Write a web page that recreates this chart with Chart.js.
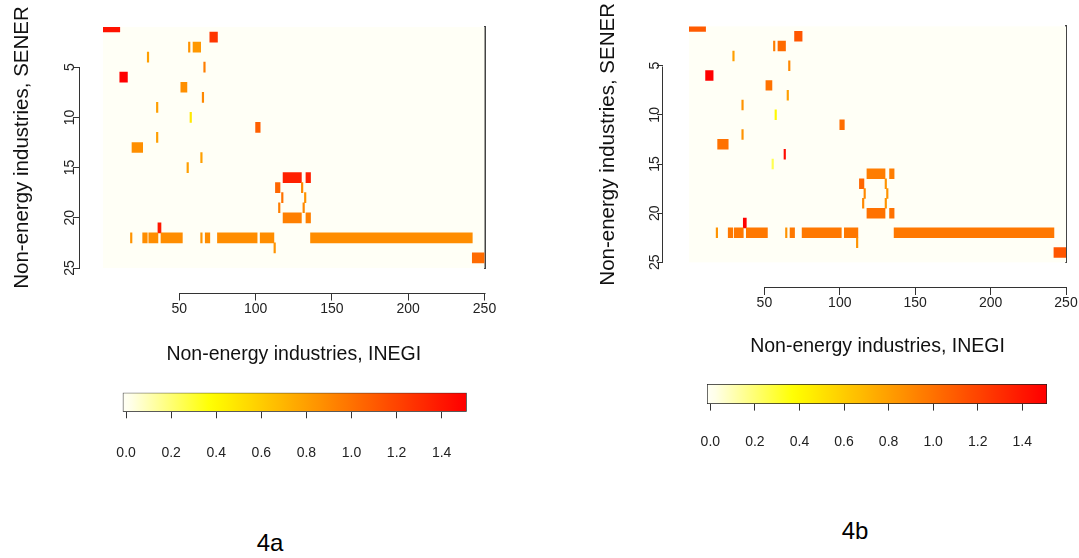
<!DOCTYPE html>
<html>
<head>
<meta charset="utf-8">
<script src="https://cdn.jsdelivr.net/npm/chart.js@4.4.1/dist/chart.umd.min.js"></script>
<style>
  html, body { margin: 0; padding: 0; background: #fff; width: 1079px; height: 558px; overflow: hidden; }
  canvas { position: absolute; }
  .cap { position: absolute; font-family: 'Liberation Sans', Arial, sans-serif; font-size: 24px; line-height: 1; color: #000; transform: translate(-50%, -50%); }
</style>
</head>
<body>
<canvas id="heatA" width="540" height="400" style="left:0;top:0"></canvas>
<canvas id="heatB" width="494" height="400" style="left:585px;top:0"></canvas>
<canvas id="barA" width="400" height="90" style="left:100px;top:380px"></canvas>
<canvas id="barB" width="394" height="90" style="left:685px;top:372px"></canvas>
<div class="cap" style="left:270px;top:543px">4a</div>
<div class="cap" style="left:855px;top:531px">4b</div>

<script>
// ---------- data: runs of equal non-zero cells (row, first column, last column, value) ----------
// 4a
const rowsA   = [1, 2, 3, 3, 4, 5, 6, 7, 8, 9, 10, 11, 12, 13, 14, 15, 16, 16, 17, 17, 18, 18, 19, 19, 20, 20, 21, 22, 22, 22, 22, 22, 22, 22, 22, 22, 23, 24];
const firstA  = [1, 71, 57, 60, 30, 67, 12, 52, 66, 36, 58, 101, 36, 20, 65, 56, 119, 134, 114, 131, 118, 133, 116, 132, 119, 134, 37, 19, 27, 31, 39, 65, 68, 76, 104, 137, 113, 243];
const lastA   = [11, 75, 57, 64, 30, 67, 16, 55, 66, 36, 58, 103, 36, 26, 65, 56, 130, 136, 116, 131, 118, 133, 116, 132, 130, 136, 38, 19, 29, 36, 52, 65, 70, 101, 112, 242, 113, 250];
const valuesA = [1.42, 1.26, 0.85, 0.83, 0.8, 0.95, 1.5, 0.87, 0.9, 0.8, 0.47, 1.08, 0.8, 0.87, 0.8, 0.8, 1.36, 1.36, 1.05, 0.9, 1.0, 0.85, 0.95, 0.9, 0.94, 0.94, 1.4, 0.85, 0.88, 0.88, 0.88, 0.85, 0.88, 0.88, 0.88, 0.88, 0.85, 1.03];

// 4b
const rowsB   = [1, 2, 3, 3, 4, 5, 6, 7, 8, 9, 10, 11, 12, 13, 14, 15, 16, 16, 17, 17, 18, 18, 19, 19, 20, 20, 21, 22, 22, 22, 22, 22, 22, 22, 22, 22, 23, 24];
const firstB  = [1, 71, 57, 60, 30, 67, 12, 52, 66, 36, 58, 101, 36, 20, 64, 56, 119, 134, 114, 131, 117, 132, 116, 131, 119, 134, 37, 19, 27, 31, 39, 65, 68, 76, 104, 137, 112, 243];
const lastB   = [11, 75, 57, 64, 30, 67, 16, 55, 66, 36, 58, 103, 36, 26, 64, 56, 130, 136, 116, 131, 117, 132, 116, 131, 130, 136, 38, 19, 29, 36, 52, 65, 70, 101, 112, 242, 112, 250];
const valuesB = [1.1, 1.12, 0.95, 1.03, 0.8, 0.9, 1.5, 1.0, 0.8, 0.85, 0.4, 1.02, 0.85, 1.0, 1.45, 0.25, 0.95, 0.95, 1.05, 0.85, 0.9, 0.85, 0.9, 0.85, 1.0, 1.0, 1.5, 0.85, 0.97, 0.97, 0.97, 0.85, 0.97, 0.97, 0.97, 0.97, 0.85, 1.12];

// axes
const xTicks = [50, 100, 150, 200, 250];
const yTicks = [5, 10, 15, 20, 25];
const colorTicks = [0, 0.2, 0.4, 0.6, 0.8, 1.0, 1.2, 1.4];
const colorRange = [-0.015, 1.511];

const FONT = "'Liberation Sans', Arial, sans-serif";

// reversed heat.colors: white -> yellow -> red
function heatColor(v) {
    const t = Math.max(0, Math.min(1.5, v));
    let h, s;
    if (t >= 0.375) {
        h = 60 * (1.5 - t) / 1.125;
        s = 1;
    } else {
        h = 60;
        s = 0.035 + 0.965 * t / 0.375;
    }
    const g = Math.round(255 * (1 - s * (1 - h / 60)));
    const b = Math.round(255 * (1 - s));
    return `rgb(255,${g},${b})`;
}

// zero cells fill the whole plot area
const cellBackground = {
    id: 'cellBackground',
    beforeDatasetsDraw(chart) {
        const { ctx, chartArea: a } = chart;
        ctx.save();
        ctx.fillStyle = heatColor(0);
        ctx.fillRect(a.left, a.top, a.right - a.left, a.bottom - a.top);
        ctx.restore();
    }
};

// R style axis line: only from first to last tick
const rAxisLine = {
    id: 'rAxisLine',
    afterDraw(chart) {
        const ctx = chart.ctx;
        ['xAxis', 'yAxis'].forEach(id => {
            const s = chart.scales[id];
            if (!s || !s.ticks.length) return;
            const p0 = s.getPixelForValue(s.ticks[0].value);
            const p1 = s.getPixelForValue(s.ticks[s.ticks.length - 1].value);
            ctx.save();
            ctx.strokeStyle = '#333';
            ctx.lineWidth = 1;
            ctx.beginPath();
            if (s.isHorizontal()) {
                const y = Math.round(s.top) + 0.5;
                ctx.moveTo(Math.round(p0) + 0.5, y);
                ctx.lineTo(Math.round(p1) + 0.5, y);
            } else {
                const x = Math.round(s.right) - 0.5;
                ctx.moveTo(x, Math.round(p0) + 0.5);
                ctx.lineTo(x, Math.round(p1) + 0.5);
            }
            ctx.stroke();
            ctx.restore();
        });
    }
};

function heatmap(id, rows, first, last, values, box) {
    const cells = rows.map((r, i) => ({ y: r, x: [first[i] - 1, last[i]] }));
    return new Chart(document.getElementById(id), {
        type: 'bar',
        data: {
            datasets: [{
                data: cells,
                xAxisID: 'x',
                yAxisID: 'y',
                backgroundColor: values.map(heatColor),
                borderWidth: 0,
                barPercentage: 1,
                categoryPercentage: 1
            }]
        },
        options: {
            indexAxis: 'y',
            responsive: false,
            animation: false,
            layout: { padding: { top: box.top, right: box.right, left: 0, bottom: 0 } },
            plugins: { legend: { display: false }, tooltip: { enabled: false } },
            scales: {
                x: {
                    type: 'linear', axis: 'x', position: 'bottom', weight: 0,
                    min: 0, max: 250,
                    grid: { display: false }, border: { display: false }, ticks: { display: false },
                    afterFit: s => { s.height = box.gapX; }
                },
                xAxis: {
                    type: 'linear', axis: 'x', position: 'bottom', weight: 1,
                    min: 0, max: 250,
                    afterBuildTicks: s => { s.ticks = xTicks.map(v => ({ value: v })); },
                    grid: { drawOnChartArea: false, tickLength: 8, color: '#333' },
                    border: { display: false },
                    ticks: { font: { size: 14, family: FONT }, color: '#222', padding: 0, maxRotation: 0, autoSkip: false },
                    title: {
                        display: true, text: 'Non-energy industries, INEGI',
                        font: { size: 19.5, family: FONT }, color: '#111',
                        padding: { top: 0, bottom: box.titleX }
                    },
                    afterFit: s => { s.height = box.hX; }
                },
                y: {
                    type: 'linear', axis: 'y', position: 'left', weight: 0,
                    reverse: true, min: 1, max: 25, offset: false,
                    grid: { display: false, offset: false }, border: { display: false },
                    ticks: { display: false, stepSize: 1 },
                    afterFit: s => { s.width = box.gapY; }
                },
                yAxis: {
                    type: 'linear', axis: 'y', position: 'left', weight: 1,
                    reverse: true, min: 1, max: 25, offset: false,
                    afterBuildTicks: s => { s.ticks = yTicks.map(v => ({ value: v })); },
                    grid: { drawOnChartArea: false, offset: false, tickLength: box.tickY, color: '#333' },
                    border: { display: false },
                    ticks: {
                        font: { size: 14, family: FONT }, color: '#222',
                        minRotation: 90, maxRotation: 90, crossAlign: 'center',
                        padding: box.padY, autoSkip: false
                    },
                    title: {
                        display: true, text: 'Non-energy industries, SENER',
                        font: { size: 20.5, family: FONT }, color: '#111',
                        padding: { top: box.titleY, bottom: 0 }
                    },
                    afterFit: s => { s.width = box.axisW; }
                },
                yRight: {
                    type: 'linear', axis: 'y', position: 'right', offset: false,
                    grid: { display: false, offset: false }, ticks: { display: false },
                    border: { display: true, color: '#444', width: 2 },
                    afterFit: s => { s.width = 10; }
                }
            }
        },
        plugins: [cellBackground, rAxisLine]
    });
}

function colorbar(id, box) {
    const tickSet = s => { s.ticks = colorTicks.map(v => ({ value: v })); };
    return new Chart(document.getElementById(id), {
        type: 'bar',
        data: {
            labels: [''],
            datasets: [{
                data: [colorRange],
                backgroundColor: ctx => {
                    const chart = ctx.chart;
                    const sx = chart.scales.x;
                    if (!sx || !chart.chartArea) return heatColor(0.75);
                    const x0 = sx.getPixelForValue(colorRange[0]);
                    const x1 = sx.getPixelForValue(colorRange[1]);
                    const grad = chart.ctx.createLinearGradient(x0, 0, x1, 0);
                    const n = 40;
                    for (let i = 0; i <= n; i++) {
                        const v = colorRange[0] + (colorRange[1] - colorRange[0]) * i / n;
                        grad.addColorStop(i / n, heatColor(v));
                    }
                    return grad;
                },
                borderColor: '#222',
                borderWidth: 1,
                borderSkipped: false,
                barPercentage: 1,
                categoryPercentage: 1
            }]
        },
        options: {
            indexAxis: 'y',
            responsive: false,
            animation: false,
            layout: { padding: { left: box.left, right: box.right, top: box.top, bottom: 0 } },
            plugins: { legend: { display: false }, tooltip: { enabled: false } },
            scales: {
                // tick marks only
                x: {
                    type: 'linear', position: 'bottom', weight: 0,
                    min: colorRange[0], max: colorRange[1],
                    afterBuildTicks: tickSet,
                    grid: { drawOnChartArea: false, tickLength: 6.6, color: '#333' },
                    border: { display: false },
                    ticks: { display: false },
                    afterFit: s => { s.height = box.gap; }
                },
                // labels, further down
                xLabels: {
                    type: 'linear', axis: 'x', position: 'bottom', weight: 1,
                    min: colorRange[0], max: colorRange[1],
                    afterBuildTicks: tickSet,
                    grid: { display: false, drawTicks: false },
                    border: { display: false },
                    ticks: {
                        font: { size: 14, family: FONT }, color: '#222',
                        padding: 0, autoSkip: false, maxRotation: 0,
                        callback: v => v.toFixed(1)
                    },
                    afterFit: s => { s.height = box.labelH; }
                },
                y: { type: 'category', display: false }
            }
        }
    });
}

heatmap('heatA', rowsA, firstA, lastA, valuesA, {
    top: 27, right: 45.5, axisW: 80, gapY: 23, gapX: 24.5, hX: 107.5,
    titleX: 33.6, titleY: 10.5, tickY: 7, padY: -4.8
});
heatmap('heatB', rowsB, firstB, lastB, valuesB, {
    top: 26.4, right: 3, axisW: 78, gapY: 26, gapX: 24.7, hX: 113,
    titleX: 41.6, titleY: 11, tickY: 6, padY: -5.8
});

// canvas height 90: bar bottom = 90 - gap - labelH
colorbar('barA', { left: 22.7, right: 33.3, top: 12.7, gap: 33.3, labelH: 25 });
colorbar('barB', { left: 22, right: 32, top: 12, gap: 30, labelH: 28 });
</script>
</body>
</html>
